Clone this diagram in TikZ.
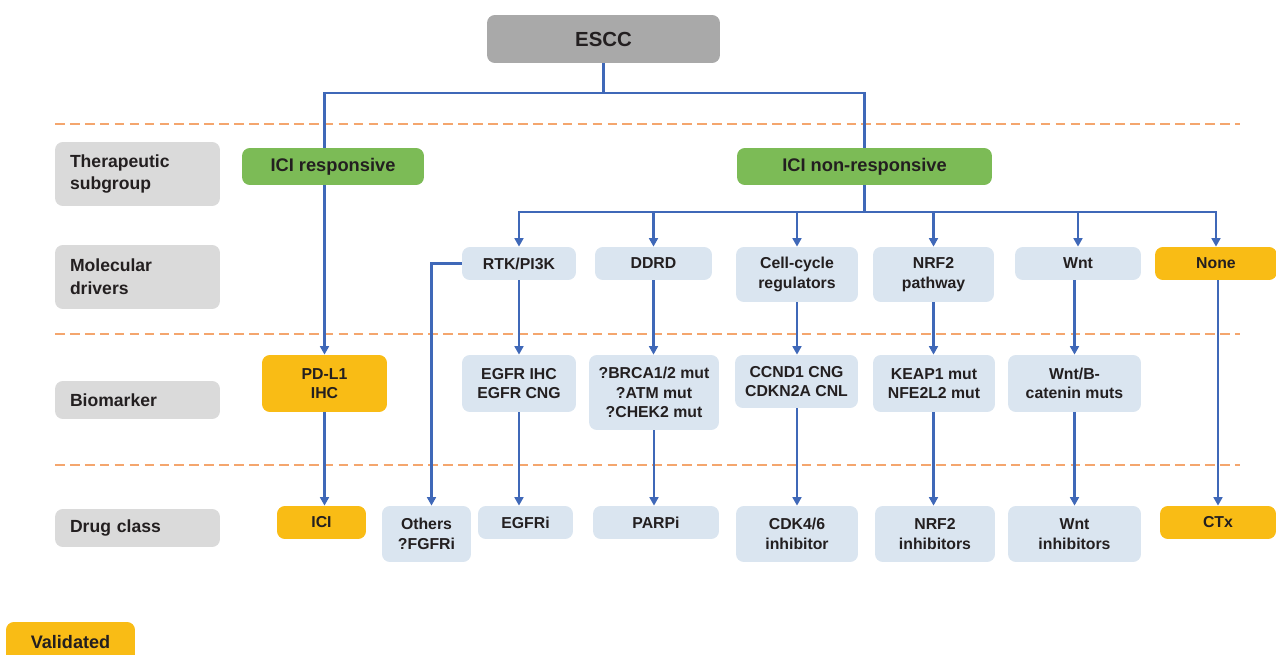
\documentclass[tikz,border=0pt]{standalone}
\usepackage{fontspec}
\setmainfont{Liberation Sans}
\usetikzlibrary{arrows.meta}
\definecolor{txt}{HTML}{231F20}
\definecolor{esccgray}{HTML}{A9A9A9}
\definecolor{labgray}{HTML}{DADADA}
\definecolor{grn}{HTML}{7CBB56}
\definecolor{lblue}{HTML}{DAE5F0}
\definecolor{yel}{HTML}{F9BC15}
\definecolor{lineblue}{HTML}{3F68B8}
\definecolor{dashor}{HTML}{F4A66E}
\tikzset{
  base/.style={rounded corners=4.5pt, inner sep=0pt, text=txt, font=\bfseries\fontsize{9}{11.2}\selectfont, align=center},
  blu/.style={base, fill=lblue},
  yl/.style={base, fill=yel},
  gr/.style={base, fill=grn, font=\bfseries\fontsize{10.4}{12.5}\selectfont},
  lab/.style={rounded corners=4.5pt, fill=labgray, text=txt, font=\bfseries\fontsize{10}{13}\selectfont, align=left, inner xsep=0.3cm, inner ysep=0pt, text width=2.7cm, minimum width=3.3cm},
  sep/.style={dashor, line width=1.7pt, dash pattern=on 5.5pt off 3pt},
  conn/.style={lineblue, line width=1.25pt},
  arr/.style={conn, -{Triangle[width=5pt,length=4.8pt]}},
}
\begin{document}
\begin{tikzpicture}[x=0.02cm,y=-0.02cm]
\useasboundingbox (0,0) rectangle (1276,655);
% separators
\draw[sep] (55,124) -- (1240,124);
\draw[sep] (55,334) -- (1240,334);
\draw[sep] (55,465) -- (1240,465);
% root
\node[base, fill=esccgray, font=\bfseries\fontsize{11.6}{14}\selectfont, minimum width=4.66cm, minimum height=0.96cm] (escc) at (603.5,39) {ESCC};
% left labels
\node[lab, minimum height=1.28cm] (lab1) at (137.5,174) {Therapeutic\\subgroup};
\node[lab, minimum height=1.28cm] (lab2) at (137.5,277) {Molecular\\drivers};
\node[lab, minimum height=0.76cm] (lab3) at (137.5,400) {Biomarker};
\node[lab, minimum height=0.76cm] (lab4) at (137.5,528) {Drug class};
% subgroups
\node[gr, minimum width=3.64cm, minimum height=0.74cm] (icir) at (333,166.5) {ICI responsive};
\node[gr, minimum width=5.10cm, minimum height=0.74cm] (icin) at (864.5,166.5) {ICI non-responsive};
% drivers
\node[blu, minimum width=2.28cm, minimum height=0.66cm] (rtk) at (519,263.5) {RTK/PI3K};
\node[blu, minimum width=2.34cm, minimum height=0.66cm] (ddrd) at (653.5,263.5) {DDRD};
\node[blu, minimum width=2.44cm, minimum height=1.10cm] (cell) at (797,274.5) {Cell-cycle\\regulators};
\node[blu, minimum width=2.42cm, minimum height=1.10cm] (nrf2) at (933.5,274.5) {NRF2\\pathway};
\node[blu, minimum width=2.52cm, minimum height=0.66cm] (wnt) at (1078,263.5) {Wnt};
\node[yl, minimum width=2.44cm, minimum height=0.66cm] (none) at (1216,263.5) {None};
% biomarkers
\node[yl, minimum width=2.50cm, minimum height=1.14cm] (pdl1) at (324.5,383.5) {PD-L1\\IHC};
\node[blu, minimum width=2.28cm, minimum height=1.14cm] (egfr) at (519,383.5) {EGFR IHC\\EGFR CNG};
\node[blu, minimum width=2.60cm, minimum height=1.50cm] (brca) at (654,392.5) {?BRCA1/2 mut\\?ATM mut\\?CHEK2 mut};
\node[blu, minimum width=2.46cm, minimum height=1.06cm] (ccnd) at (796.5,381.5) {CCND1 CNG\\CDKN2A CNL};
\node[blu, minimum width=2.44cm, minimum height=1.14cm] (keap) at (934,383.5) {KEAP1 mut\\NFE2L2 mut};
\node[blu, minimum width=2.66cm, minimum height=1.14cm] (wntb) at (1074.5,383.5) {Wnt/B-\\catenin muts};
% drug classes
\node[yl, minimum width=1.78cm, minimum height=0.66cm] (ici) at (321.5,522.5) {ICI};
\node[blu, minimum width=1.78cm, minimum height=1.12cm] (oth) at (426.5,534) {Others\\?FGFRi};
\node[blu, minimum width=1.90cm, minimum height=0.66cm] (egfri) at (525.5,522.5) {EGFRi};
\node[blu, minimum width=2.52cm, minimum height=0.66cm] (parpi) at (656,522.5) {PARPi};
\node[blu, minimum width=2.44cm, minimum height=1.12cm] (cdk) at (797,534) {CDK4/6\\inhibitor};
\node[blu, minimum width=2.40cm, minimum height=1.12cm] (nrf2i) at (935,534) {NRF2\\inhibitors};
\node[blu, minimum width=2.66cm, minimum height=1.12cm] (wnti) at (1074.5,534) {Wnt\\inhibitors};
\node[yl, minimum width=2.32cm, minimum height=0.66cm] (ctx) at (1218,522.5) {CTx};
% legend
\node[yl, font=\bfseries\fontsize{10.3}{12}\selectfont, minimum width=2.58cm, minimum height=0.80cm] (valid) at (70.5,642) {Validated};
% connectors
\coordinate (j1) at (603.5,93);
\coordinate (j2) at (864.5,212);
\draw[conn] (escc.south) -- (j1);
\draw[conn] (j1) -| (icir.north -| pdl1.north);
\draw[conn] (j1) -| (icin.north);
\draw[conn] (icin.south) -- (j2);
\draw[arr] (j2) -| (rtk.north);
\draw[arr] (j2) -| (ddrd.north);
\draw[arr] (j2) -| (cell.north);
\draw[arr] (j2) -| (nrf2.north);
\draw[arr] (j2) -| (wnt.north);
\draw[arr] (j2) -| (none.north);
\draw[arr] (icir.south -| pdl1.north) -- (pdl1.north);
\draw[arr] (pdl1.south) -- (pdl1.south |- ici.north);
\draw[arr] (rtk.west) -| ([xshift=0.1cm]oth.north);
\draw[arr] (rtk.south) -- (rtk.south |- egfr.north);
\draw[arr] (egfr.south) -- (egfr.south |- egfri.north);
\draw[arr] (ddrd.south) -- (ddrd.south |- brca.north);
\draw[arr] (brca.south) -- (brca.south |- parpi.north);
\draw[arr] (cell.south) -- (cell.south |- ccnd.north);
\draw[arr] (ccnd.south -| cell.south) -- (cell.south |- cdk.north);
\draw[arr] (nrf2.south) -- (nrf2.south |- keap.north);
\draw[arr] (keap.south -| nrf2.south) -- (nrf2.south |- nrf2i.north);
\draw[arr] (wnt.south -| wntb.north) -- (wntb.north);
\draw[arr] (wntb.south) -- (wntb.south |- wnti.north);
\draw[arr] (none.south -| ctx.north) -- (ctx.north);
\end{tikzpicture}
\end{document}
